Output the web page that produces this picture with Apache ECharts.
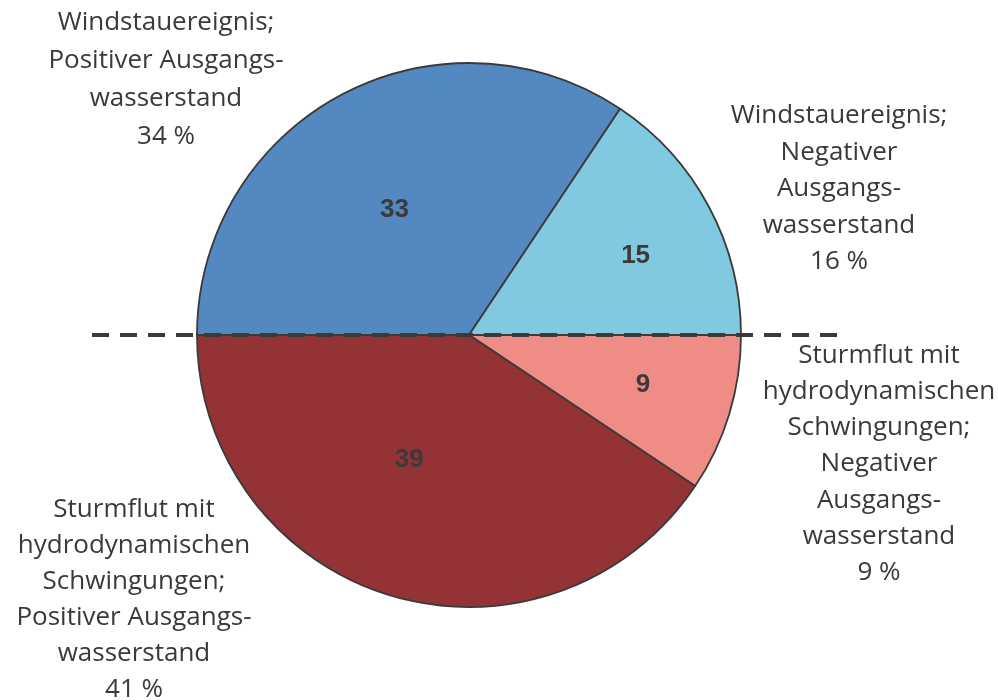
<!DOCTYPE html>
<html>
<head>
<meta charset="utf-8">
<script src="https://cdn.jsdelivr.net/npm/echarts@6/dist/echarts.min.js"></script>
<style>
  html, body { margin: 0; padding: 0; background: #ffffff; }
  #chart { width: 998px; height: 700px; }
</style>
</head>
<body>
<div id="chart"></div>
<script>
// Event categories (line breaks as set in the annotations)
const categories = [
  'Windstauereignis;\nPositiver Ausgangs-\nwasserstand',
  'Windstauereignis;\nNegativer\nAusgangs-\nwasserstand',
  'Sturmflut mit\nhydrodynamischen\nSchwingungen;\nNegativer\nAusgangs-\nwasserstand',
  'Sturmflut mit\nhydrodynamischen\nSchwingungen;\nPositiver Ausgangs-\nwasserstand'
];
// Number of events per category
const counts = [33, 15, 9, 39];

// Slice fills
const sliceColors = ['#5389C0', '#80C9E1', '#EF8C86', '#933336'];

// Layout
const CX = 469, CY = 335, R = 272;
const TEXT = '#3a3a3a';
// shift of each count label from its default in-slice position
const countLabelShift = [[-9, -2.5], [44, -14], [41, 9], [-19.5, -8.5]];
// centre of each annotation block and its line height
const noteAnchors = [[166, 80, 38], [839, 189, 36.5], [879, 464, 36.3], [134, 600, 36]];

const total = counts.reduce((a, b) => a + b, 0);
const percents = counts.map(v => Math.round(v / total * 100));

const chart = echarts.init(document.getElementById('chart'), null, { renderer: 'canvas' });

const notes = categories.map((name, i) => ({
  type: 'text',
  z: 50,
  silent: true,
  style: {
    text: name + '\n' + percents[i] + ' %',
    x: noteAnchors[i][0],
    y: noteAnchors[i][1],
    fill: TEXT,
    font: '26px "Open Sans", sans-serif',
    textAlign: 'center',
    textVerticalAlign: 'middle',
    align: 'center',
    verticalAlign: 'middle',
    lineHeight: noteAnchors[i][2],
    textLineHeight: noteAnchors[i][2]
  }
}));

chart.setOption({
  animation: false,
  backgroundColor: '#ffffff',
  series: [{
    type: 'pie',
    center: [CX, CY],
    radius: R,
    startAngle: 180,
    clockwise: true,
    silent: true,
    avoidLabelOverlap: false,
    data: categories.map((name, i) => ({
      name: name,
      value: counts[i],
      itemStyle: { color: sliceColors[i] }
    })),
    itemStyle: { borderColor: '#3a3a3a', borderWidth: 1.8 },
    label: {
      show: true,
      position: 'inside',
      formatter: '{c}',
      fontFamily: '"Liberation Sans", Arial, sans-serif',
      fontWeight: 'bold',
      fontSize: 26,
      color: TEXT
    },
    labelLine: { show: false },
    labelLayout: function (p) {
      const s = countLabelShift[p.dataIndex];
      return { dx: s[0], dy: s[1] };
    },
    emphasis: { disabled: true }
  }],
  graphic: [
    {
      type: 'line',
      z: 100,
      silent: true,
      shape: { x1: 92, y1: CY, x2: 840, y2: CY },
      style: { stroke: '#3a3a3a', lineWidth: 4, lineDash: [17, 11] }
    }
  ].concat(notes)
});
</script>
</body>
</html>
